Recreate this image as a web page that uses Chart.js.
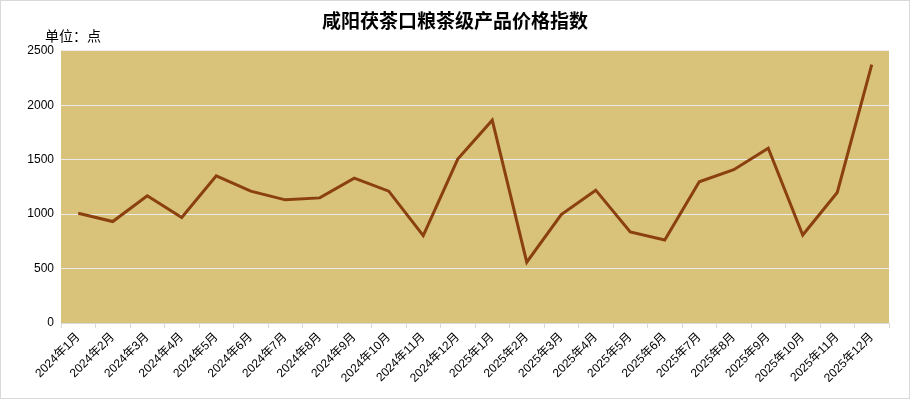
<!DOCTYPE html>
<html>
<head>
<meta charset="utf-8">
<script src="https://cdn.jsdelivr.net/npm/chart.js@4/dist/chart.umd.min.js"></script>
<style>
    body { margin: 0; background: #fff; }
    #wrap { width: 908px; height: 397px; border: 1px solid #d9d9d9; position: relative; }
</style>
</head>
<body>
<div id="wrap"><canvas id="priceChart"></canvas></div>
<script>
const months = [
    "2024年1月", "2024年2月", "2024年3月", "2024年4月", "2024年5月", "2024年6月",
    "2024年7月", "2024年8月", "2024年9月", "2024年10月", "2024年11月", "2024年12月",
    "2025年1月", "2025年2月", "2025年3月", "2025年4月", "2025年5月", "2025年6月",
    "2025年7月", "2025年8月", "2025年9月", "2025年10月", "2025年11月", "2025年12月",
];
const priceIndex = [
    1008, 932, 1168, 969, 1352, 1211, 1131, 1149, 1331, 1211, 803, 1506,
    1863, 559, 996, 1220, 836, 762, 1297, 1408, 1605, 808, 1199, 2374,
];
const yTicks = [0, 500, 1000, 1500, 2000, 2500];

const chartTitle = "咸阳茯茶口粮茶级产品价格指数";
const unitLabel = "单位：点";

// fills plot area and writes the unit label
const plotDecor = {
    id: "plotDecor",
    beforeDraw(chart) {
        const { ctx, chartArea } = chart;
        ctx.save();
        ctx.fillStyle = "#D9C27A";
        ctx.fillRect(chartArea.left, chartArea.top, chartArea.right - chartArea.left, chartArea.bottom - chartArea.top);
        ctx.restore();
    },
    afterDraw(chart) {
        const { ctx } = chart;
        ctx.save();
        ctx.fillStyle = "#000";
        ctx.font = "14px 'Noto Sans CJK SC'";
        ctx.textBaseline = "middle";
        ctx.fillText(unitLabel, 44, 35);
        ctx.restore();
    },
};

const ctx = document.getElementById("priceChart").getContext("2d");

new Chart(ctx, {
    type: "line",
    data: {
        labels: months,
        datasets: [
            {
                label: "价格指数",
                data: priceIndex,
                borderColor: "#8B400F",
                borderWidth: 3,
                pointRadius: 0,
                tension: 0,
                fill: false,
            },
        ],
    },
    options: {
        responsive: true,
        maintainAspectRatio: false,
        animation: false,
        layout: { padding: { left: 20, right: 20, top: 0, bottom: 0 } },
        plugins: {
            legend: { display: false },
            tooltip: { enabled: false },
            title: {
                display: true,
                text: chartTitle,
                color: "#000",
                font: { family: "'Noto Sans CJK SC'", size: 19, weight: "bold" },
                padding: { top: 8, bottom: 19 },
            },
        },
        scales: {
            x: {
                offset: true,
                grid: {
                    offset: true,
                    drawOnChartArea: false,
                    color: "#d9d9d9",
                    tickLength: 5,
                },
                border: { color: "#d9d9d9", width: 1 },
                ticks: {
                    autoSkip: false,
                    maxRotation: 45,
                    minRotation: 45,
                    color: "#000",
                    padding: 2,
                    font: { family: "'Liberation Sans', 'Noto Sans CJK SC'", size: 12 },
                },
                afterFit(scale) { scale.height = 75; },
            },
            y: {
                min: 0,
                max: 2500,
                afterBuildTicks(scale) { scale.ticks = yTicks.map(v => ({ value: v })); },
                grid: { color: "#ececec", lineWidth: 1, drawTicks: false },
                border: { display: false },
                ticks: {
                    color: "#000",
                    padding: 7,
                    font: { family: "'Liberation Sans', 'Noto Sans CJK SC'", size: 12 },
                    callback: (v) => String(v),
                },
                afterFit(scale) { scale.width = 40; },
            },
        },
    },
    plugins: [plotDecor],
});
</script>
</body>
</html>
